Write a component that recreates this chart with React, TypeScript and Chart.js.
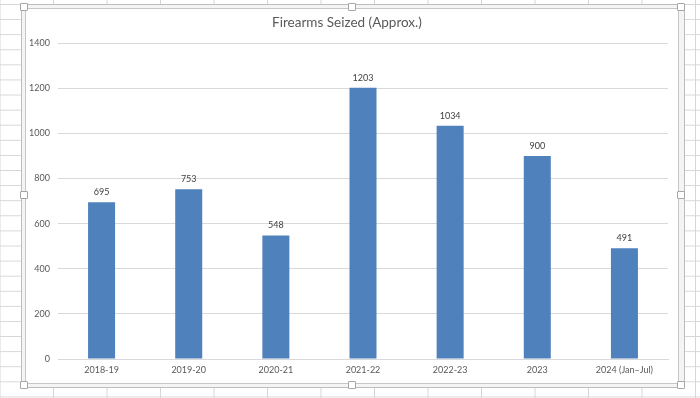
import React, { useEffect, useRef } from "react";
import { Chart, registerables } from "chart.js";

Chart.register(...registerables);

const categories = ["2018-19", "2019-20", "2020-21", "2021-22", "2022-23", "2023", "2024 (Jan–Jul)"];
const seized = [695, 753, 548, 1203, 1034, 900, 491];
const yTicks = [0, 200, 400, 600, 800, 1000, 1200, 1400];
const chartTitle = "Firearms Seized (Approx.)";

const FONT = "Lato, 'Open Sans', 'Liberation Sans', sans-serif";

const labelPlugin = {
  id: "barLabels",
  afterDatasetsDraw(chart: any) {
    const ctx = chart.ctx;
    const meta = chart.getDatasetMeta(0);
    ctx.save();
    ctx.font = `9px ${FONT}`;
    ctx.fillStyle = "#404040";
    ctx.textAlign = "center";
    ctx.textBaseline = "middle";
    meta.data.forEach((bar: any, i: number) => {
      ctx.fillText(String(seized[i]), bar.x, bar.y - 10);
    });
    ctx.restore();
  },
};

function Handle({ x, y }: { x: number; y: number }) {
  return (
    <div
      style={{
        position: "absolute",
        left: x - 4,
        top: y - 4,
        width: 6,
        height: 6,
        background: "#fff",
        border: "1px solid #a6a6a6",
        borderRadius: 1,
      }}
    />
  );
}

export default function App() {
  const ref = useRef<HTMLCanvasElement>(null);

  useEffect(() => {
    if (!ref.current) return;
    const chart = new Chart(ref.current, {
      type: "bar",
      data: {
        labels: categories,
        datasets: [
          {
            data: seized,
            backgroundColor: "#4f81bd",
            borderWidth: 0,
            barPercentage: 0.31,
            categoryPercentage: 1,
          },
        ],
      },
      options: {
        animation: false,
        responsive: false,
        maintainAspectRatio: false,
        layout: { padding: { left: 0, right: 10, top: 0, bottom: 7 } },
        plugins: {
          legend: { display: false },
          tooltip: { enabled: false },
          title: {
            display: true,
            text: chartTitle,
            color: "#595959",
            font: { family: FONT, size: 13.5, weight: "normal" },
            padding: { top: 6, bottom: 12 },
          },
        },
        scales: {
          x: {
            grid: { display: false, drawTicks: false },
            border: { display: true, color: "#d9d9d9" },
            ticks: {
              color: "#595959",
              font: { family: FONT, size: 9 },
              padding: 6,
              maxRotation: 0,
              autoSkip: false,
            },
            afterFit(scale: any) {
              scale.height = 16;
            },
          },
          y: {
            min: 0,
            max: 1400,
            afterBuildTicks(scale: any) {
              scale.ticks = yTicks.map((v) => ({ value: v }));
            },
            grid: { color: "#d9d9d9", drawTicks: false },
            border: { display: false },
            ticks: {
              color: "#595959",
              font: { family: FONT, size: 9 },
              padding: 8,
              callback: (v: any) => String(v),
            },
            afterFit(scale: any) {
              scale.width = 32;
            },
          },
        },
      },
      plugins: [labelPlugin],
    });
    return () => chart.destroy();
  }, []);

  const handles = [
    [23.5, 6.5], [352, 6.5], [680.5, 6.5],
    [23.5, 195], [680.5, 195],
    [23.5, 384.5], [352, 384.5], [680.5, 384.5],
  ];

  return (
    <div
      style={{
        position: "fixed",
        left: 0,
        top: 0,
        width: 700,
        height: 398,
        overflow: "hidden",
        background: "#fff",
        backgroundImage:
          "linear-gradient(to right, #d6d6d6 1px, transparent 1px), linear-gradient(to bottom, #d6d6d6 1px, transparent 1px)",
        backgroundSize: "53.5px 15.1px",
        backgroundPosition: "53px 4px",
      }}
    >
      <div
        style={{
          position: "absolute",
          left: 21,
          top: 4,
          width: 664,
          height: 384,
          boxSizing: "border-box",
          border: "1px solid #bdbdbd",
          background: "#f4f4f4",
        }}
      />
      <div
        style={{
          position: "absolute",
          left: 25,
          top: 8,
          width: 654,
          height: 376,
          boxSizing: "border-box",
          border: "1px solid #c6c6c6",
          background: "#fff",
        }}
      />
      <canvas
        ref={ref}
        width={652}
        height={373}
        style={{ position: "absolute", left: 26, top: 9, width: 652, height: 373 }}
      />
      {handles.map(([x, y], i) => (
        <Handle key={i} x={x} y={y} />
      ))}
    </div>
  );
}
